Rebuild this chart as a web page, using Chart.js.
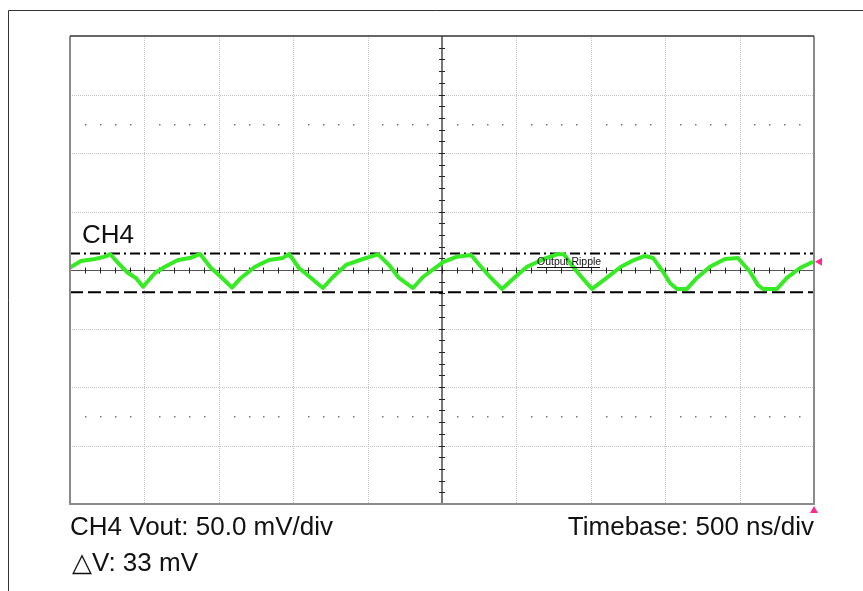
<!DOCTYPE html>
<html>
<head>
<meta charset="utf-8">
<title>CH4 Output Ripple</title>
<script src="https://cdn.jsdelivr.net/npm/chart.js@4.4.1/dist/chart.umd.min.js"></script>
<style>
    body { margin: 0; background: #fff; }
    canvas { display: block; }
</style>
</head>
<body>
<canvas id="scope" width="863" height="591"></canvas>
<script>
// grid divisions: 500 ns/div, 50 mV/div
const divTimeNs = [0, 500, 1000, 1500, 2000, 2500, 3000, 3500, 4000, 4500, 5000];
const divMilliVolt = [-200, -150, -100, -50, 0, 50, 100, 150, 200];

// CH4 trace
const timeNs = [0, 74, 168, 235, 269, 323, 390, 443, 491, 571, 638, 726, 813, 874, 948, 1015, 1089, 1149, 1243, 1337,
    1431, 1472, 1539, 1620, 1700, 1767, 1855, 1969, 2070, 2144, 2211, 2305, 2372, 2507, 2601, 2695, 2762, 2829, 2903, 2984,
    3071, 3185, 3273, 3320, 3387, 3454, 3508, 3589, 3703, 3790, 3864, 3918, 3985, 4032, 4079, 4146, 4213, 4301, 4402, 4489,
    4570, 4623, 4657, 4751, 4818, 4906, 4993];
const ch4mV = [2.0, 7.7, 9.4, 11.4, 13.7, 6.0, -2.6, -6.8, -14.3, -2.6, 2.8, 8.5, 10.5, 13.7, 1.7, -6.0, -15.1, -6.8, 2.8, 8.5,
    10.3, 13.7, 1.7, -6.8, -15.4, -6.0, 4.3, 9.4, 13.4, 4.3, -6.8, -15.4, -6.0, 6.8, 11.4, 12.8, 2.8, -6.8, -16.2, -6.8,
    2.8, 9.4, 13.4, 13.4, 1.7, -8.5, -16.2, -8.5, 2.8, 8.5, 12.0, 10.3, -1.5, -11.1, -16.2, -16.2, -6.8, 2.8, 9.4, 10.3,
    -1.5, -12.8, -16.2, -16.2, -6.8, 1.7, 7.1];

// cursors (delta V = 33 mV)
const cursorHighMv = 14;
const cursorLowMv = -19;
const triggerMv = 7;

const trace = timeNs.map((t, i) => ({ x: t, y: ch4mV[i] }));
const tMin = divTimeNs[0];
const tMax = divTimeNs[divTimeNs.length - 1];

const screenPlugin = {
    id: 'screen',
    beforeDatasetsDraw(chart) {
        const ctx = chart.ctx;
        const xs = chart.scales.x;
        const ys = chart.scales.y;
        const a = chart.chartArea;
        ctx.save();

        // dotted grid
        ctx.strokeStyle = '#c4c4c4';
        ctx.lineWidth = 1;
        ctx.setLineDash([1, 1]);
        divTimeNs.forEach(t => {
            if (t === tMin || t === tMax || t === 2500) return;
            const x = Math.round(xs.getPixelForValue(t)) + 0.5;
            ctx.beginPath(); ctx.moveTo(x, a.top); ctx.lineTo(x, a.bottom); ctx.stroke();
        });
        divMilliVolt.forEach(v => {
            if (v === -200 || v === 200 || v === 0) return;
            const y = Math.round(ys.getPixelForValue(v)) + 0.5;
            ctx.beginPath(); ctx.moveTo(a.left, y); ctx.lineTo(a.right, y); ctx.stroke();
        });
        ctx.setLineDash([]);

        // dot rows at +-2.5 div
        ctx.fillStyle = '#777';
        [125, -125].forEach(v => {
            const y = Math.round(ys.getPixelForValue(v));
            for (let t = 100; t < tMax; t += 100) {
                if (t % 500 === 0) continue;
                const x = Math.round(xs.getPixelForValue(t));
                ctx.fillRect(x, y, 1.5, 1.5);
            }
        });

        // centre cross with minor ticks
        const y0 = Math.round(ys.getPixelForValue(0)) + 0.5;
        const x0 = Math.round(xs.getPixelForValue(2500));
        ctx.strokeStyle = '#555';
        ctx.lineWidth = 1;
        ctx.beginPath(); ctx.moveTo(a.left, y0); ctx.lineTo(a.right, y0); ctx.stroke();
        ctx.strokeStyle = '#777';
        ctx.lineWidth = 2;
        ctx.beginPath(); ctx.moveTo(x0, a.top); ctx.lineTo(x0, a.bottom); ctx.stroke();

        ctx.strokeStyle = '#222';
        ctx.lineWidth = 1;
        for (let t = 100; t < tMax; t += 100) {
            const x = Math.round(xs.getPixelForValue(t)) + 0.5;
            ctx.beginPath(); ctx.moveTo(x, y0 - 3); ctx.lineTo(x, y0 + 3); ctx.stroke();
        }
        for (let v = -190; v < 200; v += 10) {
            const y = Math.round(ys.getPixelForValue(v)) + 0.5;
            ctx.beginPath(); ctx.moveTo(x0 - 3, y); ctx.lineTo(x0 + 3, y); ctx.stroke();
        }
        ctx.restore();
    },
    afterDatasetsDraw(chart) {
        const ctx = chart.ctx;
        const xs = chart.scales.x;
        const ys = chart.scales.y;
        const a = chart.chartArea;
        ctx.save();

        // outer frame (top and left only)
        ctx.strokeStyle = '#333';
        ctx.lineWidth = 1;
        ctx.beginPath(); ctx.moveTo(8.5, chart.height); ctx.lineTo(8.5, 10.5); ctx.lineTo(chart.width, 10.5); ctx.stroke();

        // screen border
        ctx.strokeStyle = '#8a8a8a';
        ctx.lineWidth = 2;
        ctx.beginPath();
        ctx.moveTo(a.left, a.top); ctx.lineTo(a.left, a.bottom); ctx.lineTo(a.right, a.bottom); ctx.lineTo(a.right, a.top);
        ctx.stroke();
        ctx.strokeStyle = '#333';
        ctx.lineWidth = 1.5;
        ctx.beginPath(); ctx.moveTo(a.left, a.top); ctx.lineTo(a.right, a.top); ctx.stroke();

        // trigger markers
        ctx.fillStyle = '#ff2a8c';
        const ty = ys.getPixelForValue(triggerMv);
        ctx.beginPath(); ctx.moveTo(a.right + 1, ty); ctx.lineTo(a.right + 8, ty - 4); ctx.lineTo(a.right + 8, ty + 4); ctx.closePath(); ctx.fill();
        const tx = xs.getPixelForValue(tMax);
        ctx.beginPath(); ctx.moveTo(tx, a.bottom + 2); ctx.lineTo(tx + 4, a.bottom + 9); ctx.lineTo(tx - 4, a.bottom + 9); ctx.closePath(); ctx.fill();

        // labels
        ctx.fillStyle = '#111';
        ctx.textBaseline = 'alphabetic';
        ctx.font = '26px "Liberation Sans", Arial, sans-serif';
        ctx.textAlign = 'left';
        ctx.fillText('CH4', a.left + 12, 243);
        ctx.fillText('CH4 Vout: 50.0 mV/div', a.left, 535);
        ctx.fillText('\u25B3V: 33 mV', a.left + 2, 571);
        ctx.textAlign = 'right';
        ctx.fillText('Timebase: 500 ns/div', a.right, 535);

        ctx.textAlign = 'left';
        ctx.font = '10.5px "Liberation Sans", Arial, sans-serif';
        ctx.fillText('Output Ripple', 537, 265);
        ctx.strokeStyle = '#111';
        ctx.lineWidth = 1;
        ctx.beginPath(); ctx.moveTo(537, 267.5); ctx.lineTo(600, 267.5); ctx.stroke();
        ctx.restore();
    }
};

new Chart(document.getElementById('scope'), {
    type: 'line',
    data: {
        datasets: [
            {
                label: 'CH4 Vout',
                data: trace,
                borderColor: '#36ea24',
                borderWidth: 4,
                borderJoinStyle: 'round',
                pointRadius: 0,
                tension: 0,
                order: 0
            },
            {
                label: 'Cursor high',
                data: [{ x: tMin, y: cursorHighMv }, { x: tMax, y: cursorHighMv }],
                borderColor: '#000',
                borderWidth: 2,
                borderDash: [10, 4, 2, 4],
                pointRadius: 0,
                order: 1
            },
            {
                label: 'Cursor low',
                data: [{ x: tMin, y: cursorLowMv }, { x: tMax, y: cursorLowMv }],
                borderColor: '#000',
                borderWidth: 2,
                borderDash: [13, 5],
                pointRadius: 0,
                order: 1
            }
        ]
    },
    options: {
        responsive: false,
        devicePixelRatio: 1,
        animation: false,
        layout: { padding: { left: 70, top: 36, right: 49, bottom: 87 } },
        scales: {
            x: { type: 'linear', min: tMin, max: tMax, display: false },
            y: { type: 'linear', min: -200, max: 200, display: false }
        },
        plugins: {
            legend: { display: false },
            tooltip: { enabled: false }
        }
    },
    plugins: [screenPlugin]
});
</script>
</body>
</html>
